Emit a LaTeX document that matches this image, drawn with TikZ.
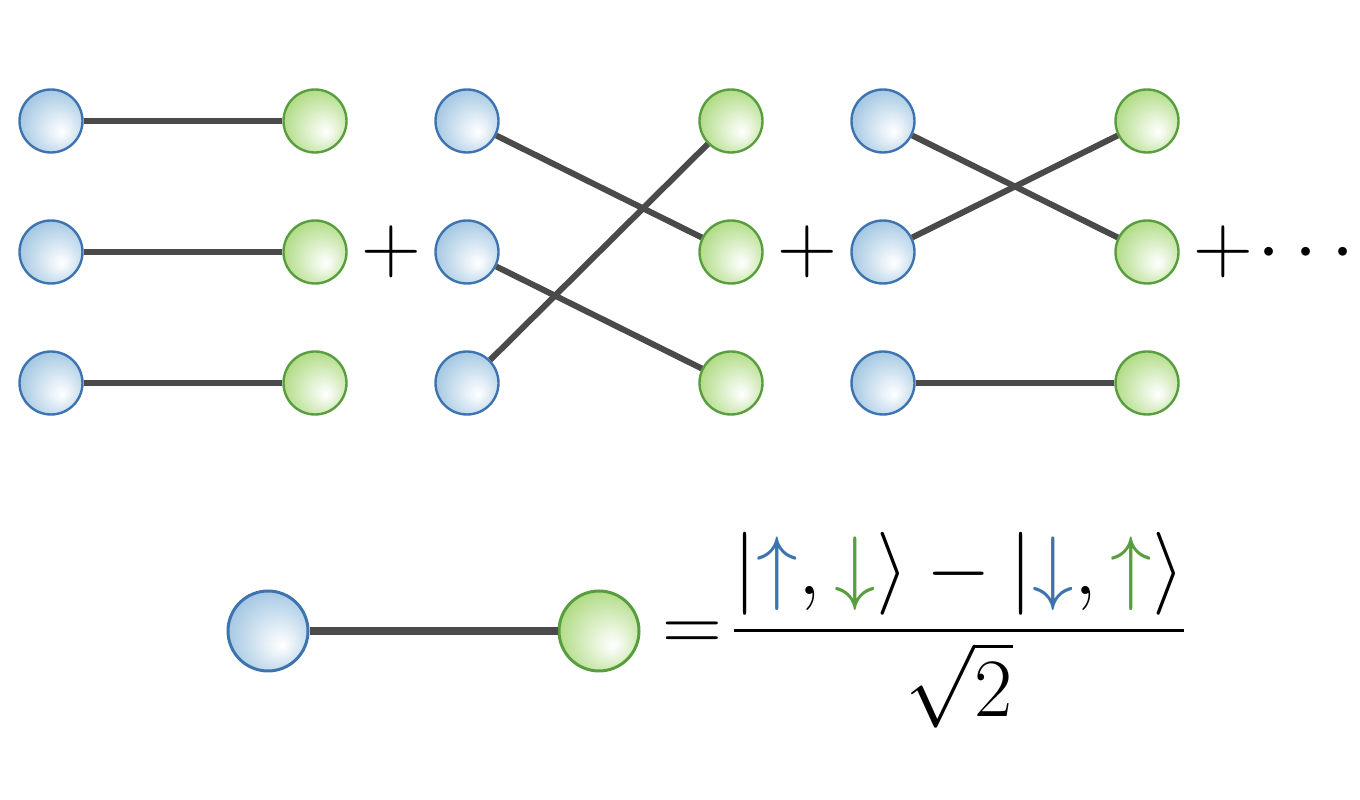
\documentclass[tikz,border=0pt]{standalone}
\usepackage{amsmath}
\usepackage{amssymb}

\definecolor{spinblue}{RGB}{61,116,176}
\definecolor{spingreen}{RGB}{88,158,62}
\definecolor{bluefill}{RGB}{163,199,226}
\definecolor{greenfill}{RGB}{176,219,132}
\definecolor{bondgray}{RGB}{74,74,74}

\pgfdeclareradialshading{blueball}{\pgfpoint{9bp}{-9bp}}{color(0bp)=(white); color(5bp)=(white!85!bluefill); color(30bp)=(bluefill); color(50bp)=(bluefill)}
\pgfdeclareradialshading{greenball}{\pgfpoint{9bp}{-9bp}}{color(0bp)=(white); color(5bp)=(white!85!greenfill); color(30bp)=(greenfill); color(50bp)=(greenfill)}

\tikzset{
  bspin/.style={circle, draw=spinblue, line width=0.6pt, shading=blueball, minimum size=15.75pt, inner sep=0pt},
  gspin/.style={circle, draw=spingreen, line width=0.6pt, shading=greenball, minimum size=15.75pt, inner sep=0pt},
  bond/.style={draw=bondgray, line width=1.5pt},
  eqn/.style={font=\fontsize{21}{25}\selectfont, inner sep=0pt}
}

\begin{document}
\begin{tikzpicture}[x=0.25pt,y=-0.25pt]
\useasboundingbox (0,0) rectangle (1360,800);
% three dimer coverings
\foreach \g/\dx in {1/0,2/416,3/832}
  \foreach \r/\y in {1/121,2/252,3/383} {
    \node[bspin] (b\g\r) at (51+\dx,\y) {};
    \node[gspin] (g\g\r) at (315+\dx,\y) {};
  }
\draw[bond] (b11) -- (g11);
\draw[bond] (b12) -- (g12);
\draw[bond] (b13) -- (g13);
\draw[bond] (b21) -- (g22);
\draw[bond] (b22) -- (g23);
\draw[bond] (b23) -- (g21);
\draw[bond] (b31) -- (g32);
\draw[bond] (b32) -- (g31);
\draw[bond] (b33) -- (g33);
\node[eqn, anchor=base] (p1) at (391,273) {$+$};
\node[eqn, anchor=base] (p2) at (807,273) {$+$};
\node[eqn, anchor=base] (p3) at (1223,273) {$+$};
\node[eqn, anchor=base] (dots) at (1313,273) {$\cdots$};
% singlet
\node[bspin, minimum size=20pt, line width=0.75pt] (bs) at (268,631) {};
\node[gspin, minimum size=20pt, line width=0.75pt] (gs) at (599,631) {};
\draw[bond, line width=2.2pt] (bs) -- (gs);
\node[eqn, anchor=base] (eq) at (692,652) {$=$};
\node[eqn, font=\fontsize{20.3}{24}\selectfont, anchor=base] (frac) at (959,651)
  {$\dfrac{|{\color{spinblue}\uparrow},{\color{spingreen}\downarrow}\rangle-|{\color{spinblue}\downarrow},{\color{spingreen}\uparrow}\rangle}{\sqrt{2}}$};
\end{tikzpicture}
\end{document}
